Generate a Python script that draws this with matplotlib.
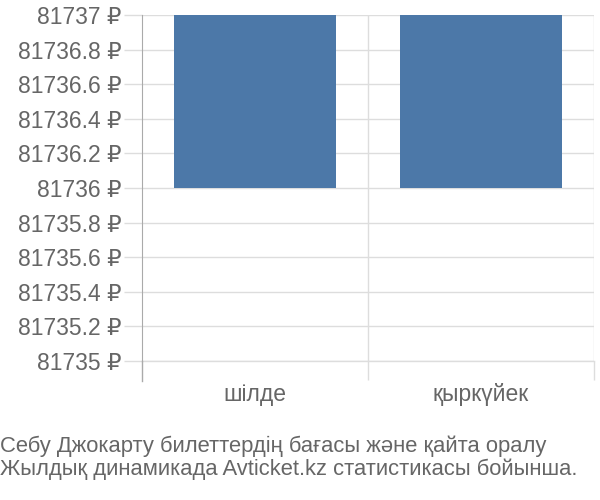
import matplotlib.pyplot as plt
from matplotlib.ticker import FixedLocator

plt.rcParams['font.family'] = ['Liberation Sans', 'DejaVu Sans']

# data
months = ['шілде', 'қыркүйек']
prices = [81737, 81737]
base_price = 81736
y_ticks = [81735, 81735.2, 81735.4, 81735.6, 81735.8, 81736,
           81736.2, 81736.4, 81736.6, 81736.8, 81737]
caption = ('Себу Джокарту билеттердің бағасы және қайта оралу\n'
           'Жылдық динамикада Avticket.kz статистикасы бойынша.')

text_col = '#666666'
grid_col = '#dddddd'
fs = 16.5

fig = plt.figure(figsize=(6, 5), dpi=100)
ax = fig.add_axes([142 / 600, 1 - 361 / 500, 452 / 600, 346 / 500])

x = list(range(len(months)))
ax.bar(x, [p - base_price for p in prices], bottom=base_price,
       width=0.72, color='#4c78a8', zorder=3)

ax.set_xlim(-0.5, len(months) - 0.5)
ax.set_ylim(81735, 81737)

ax.set_yticks(y_ticks)
ax.set_yticklabels(['{:g} ₽'.format(round(v, 1)) for v in y_ticks])
ax.tick_params(axis='y', length=13, width=1, color=grid_col, pad=2,
               labelsize=fs, labelcolor=text_col)
ax.grid(axis='y', color=grid_col, linewidth=1, zorder=0)

ax.set_xticks(x)
ax.set_xticklabels(months)
ax.tick_params(axis='x', which='major', length=0, pad=16,
               labelsize=fs, labelcolor=text_col)
ax.xaxis.set_minor_locator(FixedLocator([i + 0.5 for i in x]))
ax.tick_params(axis='x', which='minor', length=14, width=1, color=grid_col)
ax.grid(axis='x', which='minor', color=grid_col, linewidth=1, zorder=0)

for side in ['top', 'right', 'bottom']:
    ax.spines[side].set_visible(False)
ax.spines['left'].set_color('#aaaaaa')
ax.spines['left'].set_bounds(81735, 81737)

# bottom gridline drawn unclipped so it shows fully
ax.axhline(y_ticks[0], color=grid_col, linewidth=1, zorder=1, clip_on=False)

# left spine extends below the axis like the boundary ticks
ax.plot([-0.5, -0.5], [81735, 81735 - 20 / 346 * 2], color='#aaaaaa',
        linewidth=1, clip_on=False)

fig.text(0.0, 1 - 458 / 500, caption, fontsize=15.8, color=text_col,
         ha='left', va='center', linespacing=1.1)

fig.savefig('out.png')
